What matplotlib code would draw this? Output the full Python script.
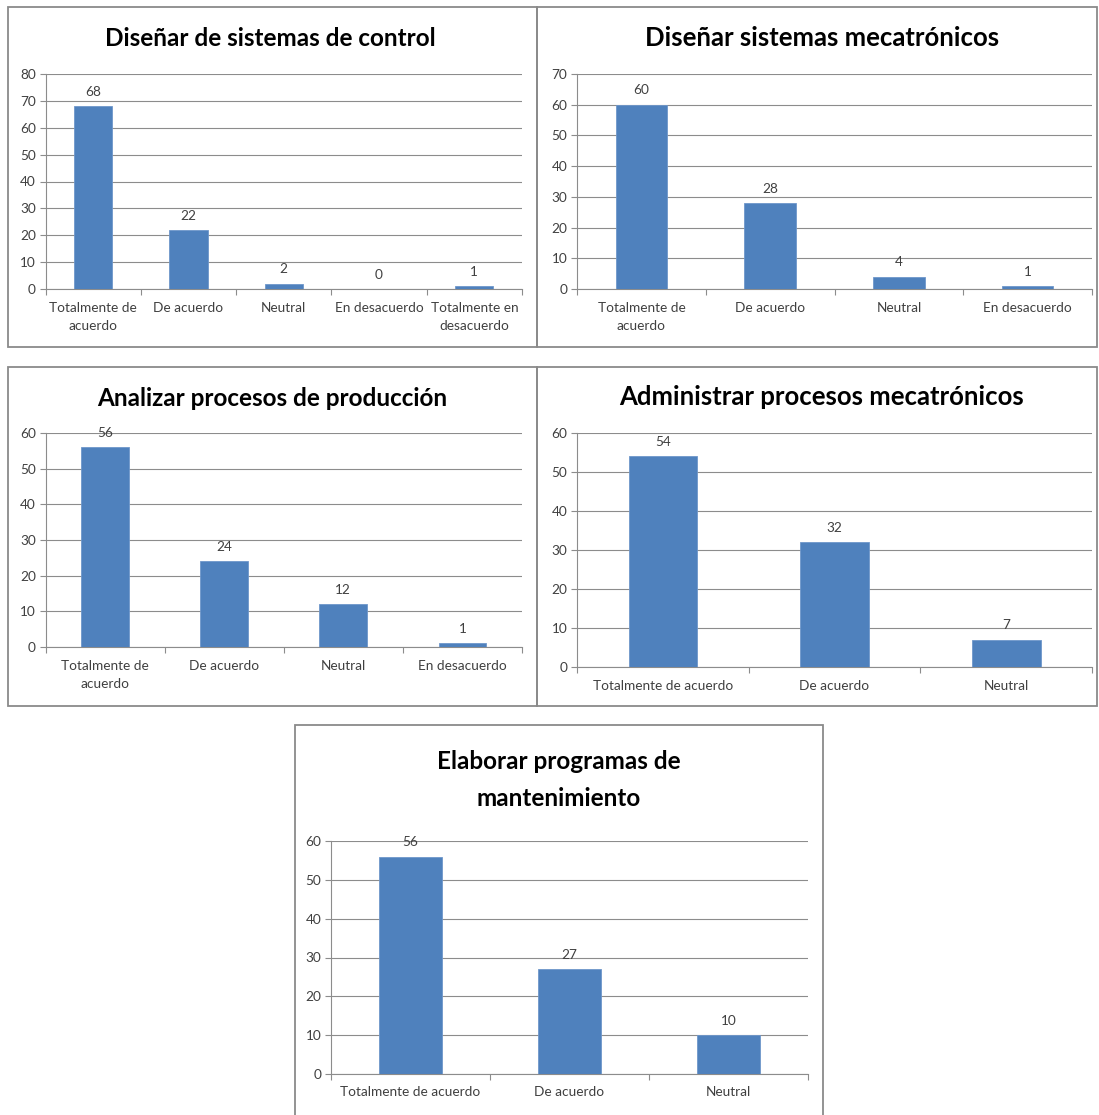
import matplotlib
matplotlib.use("Agg")
import matplotlib.pyplot as plt
from matplotlib.patches import Rectangle

W, H = 1099, 1115
plt.rcParams['font.family'] = ['Lato', 'DejaVu Sans']

# ---------------- data ----------------
titles = [
    "Diseñar de sistemas de control",
    "Diseñar sistemas mecatrónicos",
    "Analizar procesos de producción",
    "Administrar procesos mecatrónicos",
    "Elaborar programas de\nmantenimiento",
]
cats1 = ["Totalmente de\nacuerdo", "De acuerdo", "Neutral", "En desacuerdo", "Totalmente en\ndesacuerdo"]
vals1 = [68, 22, 2, 0, 1]
cats2 = ["Totalmente de\nacuerdo", "De acuerdo", "Neutral", "En desacuerdo"]
vals2 = [60, 28, 4, 1]
cats3 = ["Totalmente de\nacuerdo", "De acuerdo", "Neutral", "En desacuerdo"]
vals3 = [56, 24, 12, 1]
cats4 = ["Totalmente de acuerdo", "De acuerdo", "Neutral"]
vals4 = [54, 32, 7]
cats5 = ["Totalmente de acuerdo", "De acuerdo", "Neutral"]
vals5 = [56, 27, 10]
ymaxes = [80, 70, 60, 60, 60]

# ---------------- layout (pixels) ----------------
panels = [
    dict(box=(8, 7, 537, 347), ax=(45.5, 522, 289, 74), tc=(270, 38), fs=17.5),
    dict(box=(537, 7, 1097, 347), ax=(577, 1092, 289, 74), tc=(822, 38), fs=18.5),
    dict(box=(8, 367, 537, 706), ax=(45.5, 522, 647, 433), tc=(272, 398), fs=17.5),
    dict(box=(537, 367, 1097, 706), ax=(577, 1092, 667, 433), tc=(822, 397), fs=18.5),
    dict(box=(295, 725, 823, 1130), ax=(331, 808, 1074, 841), tc=(559, 780), fs=17.5),
]
data = [(cats1, vals1), (cats2, vals2), (cats3, vals3), (cats4, vals4), (cats5, vals5)]

BAR = "#4F81BD"
GRID = "#8C8C8C"
TXT = "#404040"
FS = 9.8

fig = plt.figure(figsize=(W / 100, H / 100), dpi=100)
fig.patch.set_facecolor("white")

for i, p in enumerate(panels):
    x0, y0, x1, y1 = p["box"]
    fig.patches.append(Rectangle((x0 / W, 1 - y1 / H), (x1 - x0) / W, (y1 - y0) / H,
                                 transform=fig.transFigure, fill=False,
                                 edgecolor="#8A8A8A", linewidth=1.3, zorder=0))
    l, r, yz, yt = p["ax"]
    ax = fig.add_axes([l / W, 1 - yz / H, (r - l) / W, (yz - yt) / H])
    cats, vals = data[i]
    n = len(cats)
    xs = list(range(n))
    ax.bar(xs, vals, width=0.4, color=BAR, edgecolor="#6F97CB", linewidth=0.6, zorder=3)
    ax.set_xlim(-0.5, n - 0.5)
    ax.set_ylim(0, ymaxes[i])
    ax.set_yticks(range(0, ymaxes[i] + 1, 10))
    ax.yaxis.grid(True, color=GRID, linewidth=0.8, zorder=0)
    ax.set_axisbelow(True)
    for s in ["top", "right"]:
        ax.spines[s].set_visible(False)
    for s in ["left", "bottom"]:
        ax.spines[s].set_color(GRID)
        ax.spines[s].set_linewidth(0.8)
    ax.set_xticks(xs)
    ax.set_xticklabels(cats, fontsize=FS, color=TXT, linespacing=1.65)
    ax.tick_params(axis="x", length=0, pad=9)
    ax.set_xticks([k - 0.5 for k in range(n + 1)], minor=True)
    ax.tick_params(axis="x", which="minor", length=4, color=GRID, width=0.8)
    ax.tick_params(axis="y", length=4, color=GRID, width=0.8, labelsize=FS,
                   labelcolor=TXT, pad=3)
    for xv, v in zip(xs, vals):
        ax.annotate(str(v), (xv, v), xytext=(0, 6), textcoords="offset points",
                    ha="center", va="bottom", fontsize=FS, color=TXT)
    tx, ty = p["tc"]
    fig.text(tx / W, 1 - ty / H, titles[i], ha="center", va="center",
             fontsize=p["fs"], fontweight="bold", color="black", linespacing=1.7)

fig.savefig("out.png", dpi=100)
